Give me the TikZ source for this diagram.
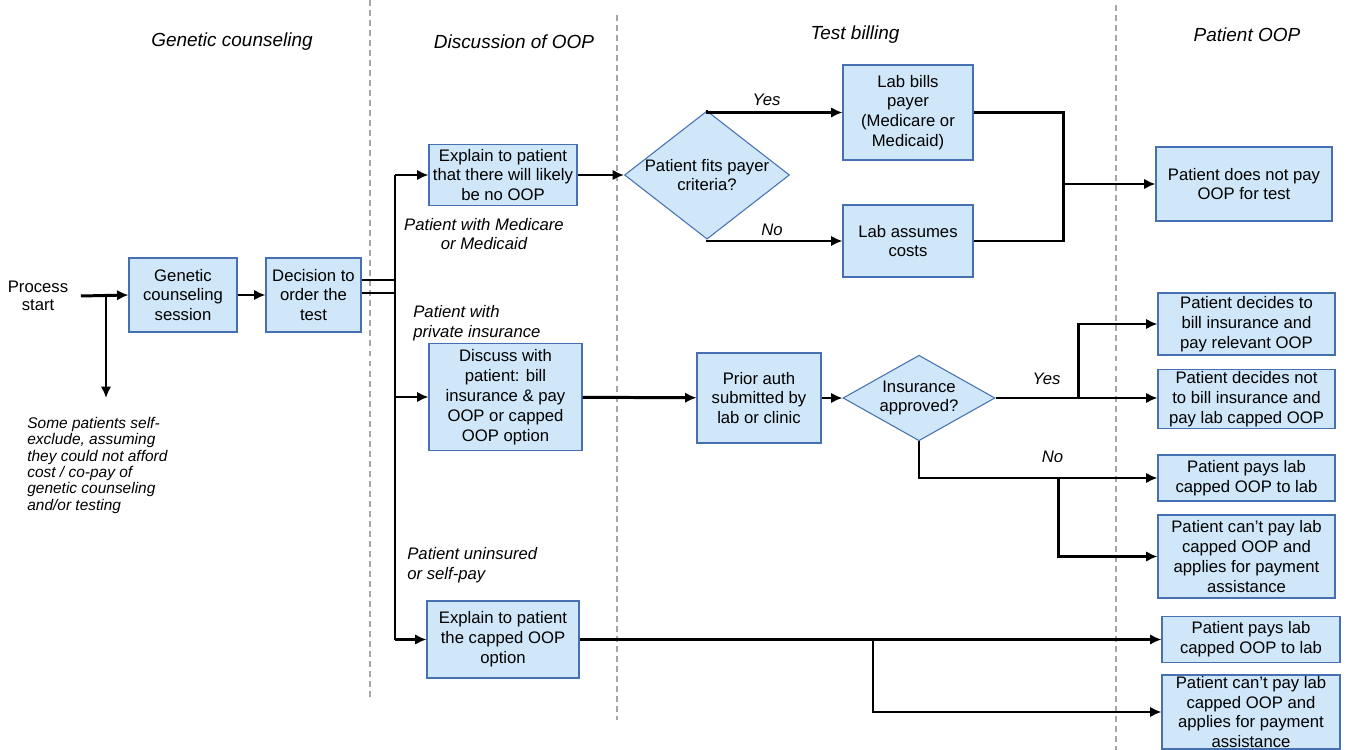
\documentclass[tikz,border=0pt]{standalone}
\usepackage{fontspec}
\setmainfont{Liberation Sans}
\usetikzlibrary{shapes.geometric,arrows.meta,positioning}

\definecolor{boxfill}{RGB}{207,231,248}
\definecolor{boxline}{RGB}{70,112,178}

\tikzstyle{term} = [draw=boxline, line width=0.6pt, fill=boxfill, align=center,%
                    inner sep=1pt, font=\fontsize{9.5}{11.3}\selectfont, anchor=center]
\tikzstyle{decide} = [diamond, draw=boxline, line width=0.6pt, fill=boxfill, align=center,%
                      inner sep=-4pt, font=\fontsize{9.5}{11.3}\selectfont]
\tikzstyle{note} = [inner sep=0pt, font=\fontsize{9.5}{11.3}\selectfont\itshape]
\tikzstyle{head} = [inner sep=0pt, font=\fontsize{10.8}{12}\selectfont\itshape]
\tikzstyle{link} = [line width=1.7pt, black]
\tikzstyle{arr} = [link, -{Latex[length=6.5pt, width=6pt]}]
\tikzstyle{lane} = [gray!70, line width=0.6pt, dash pattern=on 3.4pt off 2.3pt]

\begin{document}
\begin{tikzpicture}[x=0.02cm, y=-0.02cm]
	\useasboundingbox (0,0) rectangle (1347,750);

	% lanes
	\draw[lane] (370,0) -- (370,700);
	\draw[lane] (617,15) -- (617,720);
	\draw[lane] (1116,5) -- (1116,750);

	\node (gcHead)   [head] at (232,42) {Genetic counseling};
	\node (oopHead)  [head] at (514,42) {Discussion of OOP};
	\node (billHead) [head] at (855,35) {Test billing};
	\node (patHead)  [head] at (1247,35) {Patient OOP};

	% genetic counseling
	\node (start) [align=center, inner xsep=7pt, font=\fontsize{9.5}{10.3}\selectfont] at (38,296) {Process\\start};
	\node (gcSession) [term, minimum width=2.16cm, minimum height=1.48cm] at (183,295) {Genetic\\counseling\\session};
	\node (orderTest) [term, minimum width=1.9cm, minimum height=1.48cm] at (313.5,295) {Decision to\\order the\\test};

	\draw[arr] (start.east) -- (gcSession.west);
	\draw[arr] (gcSession) -- (orderTest);

	\coordinate (exitSplit) at (106,295);
	\coordinate (exitEnd) at (106,398);
	\draw[arr] (exitSplit) -- (exitEnd);
	\node (selfExclude) [note, align=left, anchor=north west, font=\fontsize{8.8}{9.3}\selectfont\itshape] at (27,417)
		{Some patients self-\\exclude, assuming\\they could not afford\\cost / co-pay of\\genetic counseling\\and/or testing};

	% trunk to the three payer groups
	\coordinate (trunkA) at (395,280);
	\coordinate (trunkB) at (395,293);
	\coordinate (trunkTop) at (395,175);
	\coordinate (trunkPriv) at (395,397);
	\coordinate (trunkBot) at (395,639.5);
	\draw[link] (trunkA -| orderTest.east) -- (trunkA);
	\draw[link] (trunkB -| orderTest.east) -- (trunkB);
	\draw[link] (trunkTop) -- (trunkBot);

	% Medicare / Medicaid
	\node (explainMed) [term, minimum width=2.96cm, minimum height=1.22cm] at (503,175) {Explain to patient\\that there will likely\\be no OOP};
	\node (medLabel) [note, align=center] at (484,234) {Patient with Medicare\\or Medicaid};
	\node (fitsCriteria) [decide, minimum width=3.3cm, minimum height=2.16cm] at (707,175) {Patient fits payer\\criteria?};
	\node (labBills) [term, minimum width=2.6cm, minimum height=1.9cm] at (908,112.5) {Lab bills\\payer\\(Medicare or\\Medicaid)};
	\node (labAssumes) [term, minimum width=2.6cm, minimum height=1.44cm] at (908,241) {Lab assumes\\costs};
	\node (noOop) [term, minimum width=3.52cm, minimum height=1.48cm] at (1244,184) {Patient does not pay\\OOP for test};

	\draw[arr] (trunkTop) -- (explainMed.west);
	\draw[arr] (explainMed) -- (fitsCriteria);
	\draw[arr] (fitsCriteria.north) |- (labBills.west) node[note, pos=0.72, above=3pt] {Yes};
	\draw[arr] (fitsCriteria.south) |- (labAssumes.west) node[note, pos=0.74, above=2pt] {No};

	\coordinate (noOopJoin) at (1063,184);
	\draw[link] (labBills.east) -| (noOopJoin) |- (labAssumes.east);
	\draw[arr] (noOopJoin) -- (noOop);

	% private insurance
	\node (privLabel) [note, align=left, anchor=west] at (413,323) {Patient with\\private insurance};
	\node (discussPriv) [term, minimum width=3.06cm, minimum height=2.14cm] at (505.5,397) {Discuss with\\patient: bill\\insurance \& pay\\OOP or capped\\OOP option};
	\node (priorAuth) [term, minimum width=2.48cm, minimum height=1.8cm] at (759,398) {Prior auth\\submitted by\\lab or clinic};
	\node (insApproved) [decide, minimum width=3.04cm, minimum height=1.58cm] at (919,398) {Insurance\\approved?};

	\draw[arr] (trunkPriv) -- (discussPriv);
	\draw[arr] (discussPriv) -- (priorAuth);
	\draw[arr] (priorAuth) -- (insApproved);

	\node (decideBill) [term, minimum width=3.54cm, minimum height=1.24cm] at (1246.5,324) {Patient decides to\\bill insurance and\\pay relevant OOP};
	\node (decideNot) [term, minimum width=3.54cm, minimum height=1.18cm] at (1246.5,399) {Patient decides not\\to bill insurance and\\pay lab capped OOP};
	\node (paysLab) [term, minimum width=3.54cm, minimum height=0.92cm] at (1246.5,478) {Patient pays lab\\capped OOP to lab};
	\node (cantPay) [term, minimum width=3.54cm, minimum height=1.66cm] at (1246.5,556.5) {Patient can't pay lab\\capped OOP and\\applies for payment\\assistance};

	\coordinate (yesSplit) at (1078,398);
	\draw[link] (insApproved.east) -- (yesSplit) node[note, pos=0.62, above=7pt] {Yes};
	\draw[arr] (yesSplit) -- (yesSplit -| decideNot.west);
	\draw[arr] (yesSplit) |- (decideBill.west);

	\coordinate (noSplit) at (1058,478);
	\draw[arr] (insApproved.south) |- (paysLab.west) node[note, pos=0.78, above=8pt] {No};
	\draw[arr] (noSplit) |- (cantPay.west);

	% uninsured / self-pay
	\node (uninsLabel) [note, align=left, anchor=west] at (407,565) {Patient uninsured\\or self-pay};
	\node (explainCap) [term, minimum width=3.04cm, minimum height=1.54cm] at (503,639.5) {Explain to patient\\the capped OOP\\option};
	\node (paysLab2) [term, minimum width=3.56cm, minimum height=0.92cm] at (1251,639.5) {Patient pays lab\\capped OOP to lab};
	\node (cantPay2) [term, minimum width=3.56cm, minimum height=1.48cm, inner ysep=0pt] at (1251,712) {Patient can't pay lab\\capped OOP and\\applies for payment\\assistance};

	\draw[arr] (trunkBot) -- (explainCap);
	\draw[arr] (explainCap) -- (paysLab2);
	\coordinate (capSplit) at (873,639.5);
	\draw[arr] (capSplit) |- (cantPay2.west);
\end{tikzpicture}
\end{document}
